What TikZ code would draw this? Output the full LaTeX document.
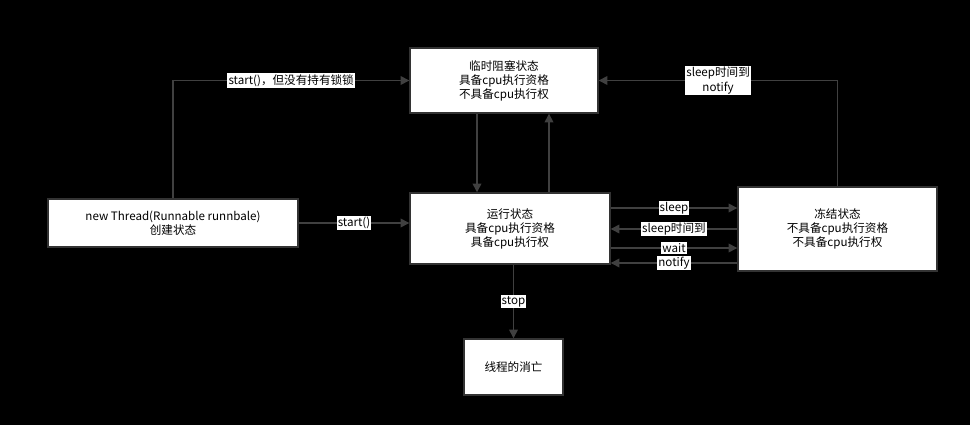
\documentclass[tikz,border=0pt]{standalone}
\usepackage{fontspec}
\setmainfont{Noto Sans CJK SC}
\usetikzlibrary{arrows.meta}
\begin{document}
\begin{tikzpicture}[x=0.02cm,y=-0.02cm,>={Triangle[length=5pt,width=5pt]},
    font=\fontsize{6.6pt}{8pt}\selectfont,
    box/.style={draw=black!80,fill=white,line width=0.8pt,align=center,inner sep=0pt},
    lbl/.style={fill=white,inner sep=0.6pt,align=center},
    line/.style={draw=black!75,line width=0.8pt}]
  \fill[black] (0,0) rectangle (970,425);
  \useasboundingbox (0,0) rectangle (970,425);

  \node[box,minimum width=188*0.02cm,minimum height=65*0.02cm] (block) at (504,80.5) {临时阻塞状态\\具备cpu执行资格\\不具备cpu执行权};
  \node[box,minimum width=200*0.02cm,minimum height=71*0.02cm] (run) at (510,228.5) {运行状态\\具备cpu执行资格\\具备cpu执行权};
  \node[box,minimum width=250*0.02cm,minimum height=48*0.02cm] (new) at (173,223) {new Thread(Runnable runnbale)\\创建状态};
  \node[box,minimum width=199*0.02cm,minimum height=84*0.02cm] (frozen) at (837.5,229) {冻结状态\\不具备cpu执行资格\\不具备cpu执行权};
  \node[box,minimum width=99*0.02cm,minimum height=56*0.02cm] (dead) at (513.5,367) {线程的消亡};

  % start paths
  \draw[line,->] (new.north) |- (block.west) node[lbl,pos=0.75] {start()，但没有持有锁锁};
  \draw[line,->] (new.east) -- (run.west |- new.east) node[lbl,pos=0.5] {start()};
  \draw[line,->] (frozen.north) |- (block.east) node[lbl,pos=0.75] {sleep时间到\\notify};

  \draw[line,->] (block.south -| 477,0) -- (run.north -| 477,0);
  \draw[line,->] (run.north -| 549,0) -- (block.south -| 549,0);

  % run <-> frozen
  \draw[line,->] (run.east |- 0,208) -- (frozen.west |- 0,208) node[lbl,midway] {sleep};
  \draw[line,->] (frozen.west |- 0,229) -- (run.east |- 0,229) node[lbl,midway] {sleep时间到};
  \draw[line,->] (run.east |- 0,248) -- (frozen.west |- 0,248) node[lbl,midway] {wait};
  \draw[line,->] (frozen.west |- 0,263) -- (run.east |- 0,263) node[lbl,midway] {notify};

  \draw[line,->] (run.south -| dead.north) -- (dead.north) node[lbl,midway] {stop};
\end{tikzpicture}
\end{document}
